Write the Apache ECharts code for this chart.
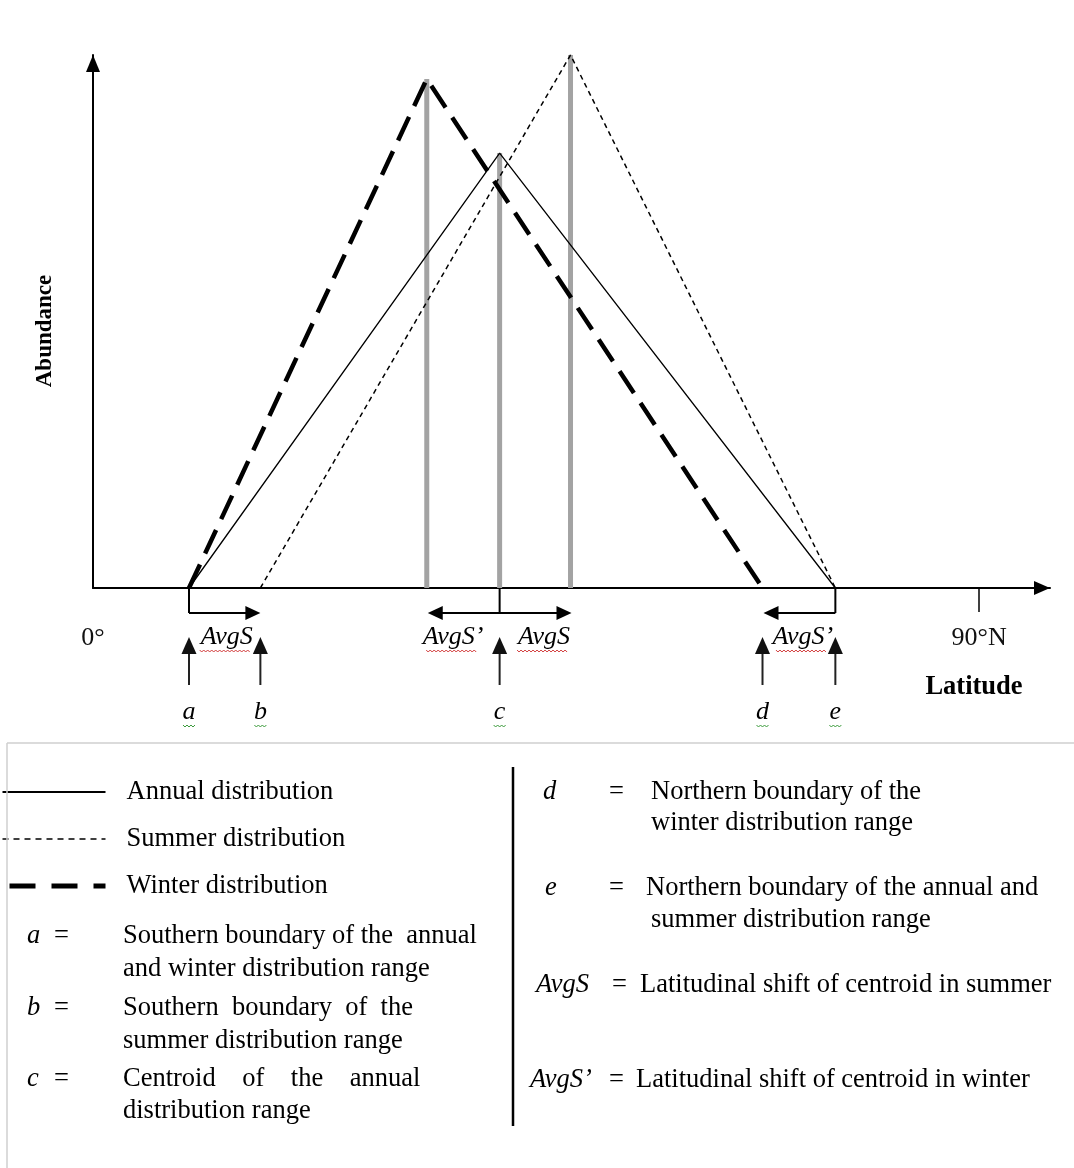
<!DOCTYPE html>
<html>
<head>
<meta charset="utf-8">
<script src="https://cdn.jsdelivr.net/npm/echarts@6/dist/echarts.min.js"></script>
<style>
html,body{margin:0;padding:0;background:#fff;}
#chart{width:1074px;height:1168px;}
</style>
</head>
<body>
<div id="chart"></div>
<script>
// ---- data (latitude in degrees, abundance in relative units) ----
const latTickValues = [0, 90];
const latTickLabels = ['0°', '90°N'];
const annualLat = [9.75, 41.3, 75.4];
const annualAbund = [0, 81.6, 0];
const summerLat = [17, 48.5, 75.4];
const summerAbund = [0, 100, 0];
const winterLat = [9.75, 33.9, 68];
const winterAbund = [0, 95.5, 0];
const boundaryNames = ['a', 'b', 'c', 'd', 'e'];
const boundaryLat = [9.75, 17, 41.3, 68, 75.4];
const seriesNames = ['Annual distribution', 'Summer distribution', 'Winter distribution'];
const leftDefs = [
  ['a', ['Southern boundary of the  annual', 'and winter distribution range']],
  ['b', ['Southern  boundary  of  the', 'summer distribution range']],
  ['c', ['Centroid    of    the    annual', 'distribution range']]
];
const rightDefs = [
  ['d', ['Northern boundary of the', 'winter distribution range']],
  ['e', ['Northern boundary of the annual and', 'summer distribution range']],
  ['AvgS', ['Latitudinal shift of centroid in summer']],
  ['AvgS\u2019', ['Latitudinal shift of centroid in winter']]
];
const shiftLabels = ['AvgS', 'AvgS\u2019', 'AvgS', 'AvgS\u2019'];

const SERIF = 'Liberation Serif';
const FS = 26.5;
const zip = (xs, ys) => xs.map((x, i) => [x, ys[i]]);
const peakLine = (xs, ys) => [[xs[1], 0], [xs[1], ys[1]]];

const chart = echarts.init(document.getElementById('chart'), null, {renderer: 'canvas'});

const grayLine = {color: '#a3a3a3', width: 5, type: 'solid'};
const noSym = {color: 'rgba(0,0,0,0)', borderWidth: 0, opacity: 0};
const option = {
  animation: false,
  backgroundColor: '#ffffff',
  grid: {left: 93, right: 24, top: 55, bottom: 580, containLabel: false},
  xAxis: {
    type: 'value', min: 0, max: 97.2,
    axisLine: {show: true, onZero: false, lineStyle: {color: '#000', width: 2},
      symbol: ['none', 'triangle'], symbolSize: [14, 16], symbolOffset: [0, -8]},
    axisTick: {show: true, customValues: [90], length: 24, lineStyle: {color: '#000', width: 1.5}},
    axisLabel: {show: true, customValues: latTickValues, margin: 37,
      formatter: v => latTickLabels[latTickValues.indexOf(v)] || '',
      fontFamily: SERIF, fontSize: 26, color: '#111'},
    splitLine: {show: false}
  },
  yAxis: {
    type: 'value', min: 0, max: 100,
    axisLine: {show: true, lineStyle: {color: '#000', width: 2},
      symbol: ['none', 'triangle'], symbolSize: [14, 17], symbolOffset: [0, -8.5]},
    axisTick: {show: false}, axisLabel: {show: false}, splitLine: {show: false}
  },
  legend: {
    orient: 'vertical', left: 0, top: 777, padding: 0,
    itemWidth: 103, itemHeight: 14, itemGap: 17, selectedMode: false,
    textStyle: {fontFamily: SERIF, fontSize: FS, color: '#000', padding: [0, 0, 0, 16], lineHeight: 30},
    data: [
      {name: seriesNames[0], itemStyle: noSym, lineStyle: {color: '#000', width: 2, type: 'solid'}},
      {name: seriesNames[1], itemStyle: noSym, lineStyle: {color: '#000', width: 1.5, type: [6, 5]}},
      {name: seriesNames[2], itemStyle: noSym, lineStyle: {color: '#000', width: 5, type: [26, 16], dashOffset: -7}}
    ]
  },
  series: [
    {type: 'line', name: 'peakW', data: peakLine(winterLat, winterAbund), symbol: 'none', z: 1, lineStyle: grayLine},
    {type: 'line', name: 'peakA', data: peakLine(annualLat, annualAbund), symbol: 'none', z: 1, lineStyle: grayLine},
    {type: 'line', name: 'peakS', data: peakLine(summerLat, summerAbund), symbol: 'none', z: 1, lineStyle: grayLine},
    {type: 'line', name: seriesNames[0], data: zip(annualLat, annualAbund), symbol: 'none', z: 3,
      color: '#000', lineStyle: {color: '#000', width: 1.3, type: 'solid'}},
    {type: 'line', name: seriesNames[1], data: zip(summerLat, summerAbund), symbol: 'none', z: 3,
      color: '#000', lineStyle: {color: '#000', width: 1.5, type: [5, 4]}},
    {type: 'line', name: seriesNames[2], data: zip(winterLat, winterAbund), symbol: 'none', z: 3,
      color: '#000', lineStyle: {color: '#000', width: 4.5, type: [26, 12]}}
  ]
};
chart.setOption(option);

// ---------- annotations placed through the chart's own scale ----------
const px = lat => chart.convertToPixel({gridIndex: 0}, [lat, 0]);
const base = px(0)[1];
const g = [];
const txt = (s, x, y, extra) => g.push({type: 'text', x, y, silent: true, z: 10,
  style: Object.assign({text: s, fontFamily: SERIF, fontSize: FS, fill: '#000',
    textAlign: 'left', textVerticalAlign: 'middle'}, extra || {})});
const line = (x1, y1, x2, y2, w, c) => g.push({type: 'line', silent: true, z: 10,
  shape: {x1, y1, x2, y2}, style: {stroke: c || '#000', lineWidth: w || 2}});
const tri = (pts, c) => g.push({type: 'polygon', silent: true, z: 10, shape: {points: pts}, style: {fill: c || '#000'}});
const zig = (x0, x1, y, c) => {
  const pts = []; let up = true;
  for (let x = x0; x <= x1; x += 2) { pts.push([x, up ? y : y + 2]); up = !up; }
  g.push({type: 'polyline', silent: true, z: 10, shape: {points: pts}, style: {stroke: c, lineWidth: 1, fill: null}});
};

const bx = boundaryLat.map(v => px(v)[0]);
const wPeakX = px(winterLat[1])[0], sPeakX = px(summerLat[1])[0];
const armY = base + 25;

// a -> b (summer shift at the southern boundary)
line(bx[0], base, bx[0], armY);
line(bx[0], armY, bx[1] - 12, armY);
tri([[bx[1], armY], [bx[1] - 15, armY - 7], [bx[1] - 15, armY + 7]]);
// centroid double arrow
line(bx[2], base, bx[2], armY);
line(wPeakX + 12, armY, sPeakX - 12, armY);
tri([[wPeakX + 1, armY], [wPeakX + 16, armY - 7], [wPeakX + 16, armY + 7]]);
tri([[sPeakX + 1, armY], [sPeakX - 14, armY - 7], [sPeakX - 14, armY + 7]]);
// e -> d (winter shift at the northern boundary)
line(bx[4], base, bx[4], armY);
line(bx[4], armY, bx[3] + 12, armY);
tri([[bx[3] + 1, armY], [bx[3] + 16, armY - 7], [bx[3] + 16, armY + 7]]);

// upward pointer arrows and letters
const tipY = base + 49, stemY = base + 97;
bx.forEach((x, i) => {
  line(x, stemY, x, tipY + 10, 2, '#222');
  tri([[x, tipY], [x - 7.5, tipY + 17], [x + 7.5, tipY + 17]], '#111');
  txt(boundaryNames[i], x, base + 124, {fontStyle: 'italic', textAlign: 'center', fontSize: 26});
  zig(x - 6, x + 6, base + 137, '#3a9a3a');
});

// shift labels
const shiftX = [(bx[0] + bx[1]) / 2 + 2, (wPeakX + bx[2]) / 2 - 10, (bx[2] + sPeakX) / 2 + 9, (bx[3] + bx[4]) / 2 + 4];
shiftLabels.forEach((s, i) => {
  txt(s, shiftX[i], base + 49, {fontStyle: 'italic', textAlign: 'center', fontSize: 26});
  zig(shiftX[i] - 27, shiftX[i] + 24, base + 62, '#d23c3c');
});

// axis names
txt('Latitude', 974, 687, {fontWeight: 'bold', textAlign: 'center', fontSize: 26.5});
g.push({type: 'text', x: 45, y: 331, rotation: Math.PI / 2, silent: true, z: 10,
  style: {text: 'Abundance', fontFamily: SERIF, fontSize: 23, fontWeight: 'bold', fill: '#000',
    textAlign: 'center', textVerticalAlign: 'middle'}});

// ---------- legend / key box ----------
line(7, 743, 1074, 743, 1.5, '#cfcfcf');
line(7, 743, 7, 1168, 1.5, '#cfcfcf');
line(513, 767, 513, 1126, 2.5, '#000');

const leftRows = [[936, 969], [1008, 1041], [1079, 1111]];
leftDefs.forEach((d, i) => {
  txt(d[0], 27, leftRows[i][0], {fontStyle: 'italic'});
  txt('=', 54, leftRows[i][0]);
  d[1].forEach((s, j) => txt(s, 123, leftRows[i][j]));
});
const rightRows = [[792, 823], [888, 920], [985], [1080]];
const rightSymX = [543, 545, 536, 530];
const rightEqX = [609, 609, 612, 609];
const rightTextX = [[651, 651], [646, 651], [640], [636]];
rightDefs.forEach((d, i) => {
  txt(d[0], rightSymX[i], rightRows[i][0], {fontStyle: 'italic'});
  txt('=', rightEqX[i], rightRows[i][0]);
  d[1].forEach((s, j) => txt(s, rightTextX[i][j], rightRows[i][j]));
});

chart.setOption({graphic: {elements: g}});
</script>
</body>
</html>
